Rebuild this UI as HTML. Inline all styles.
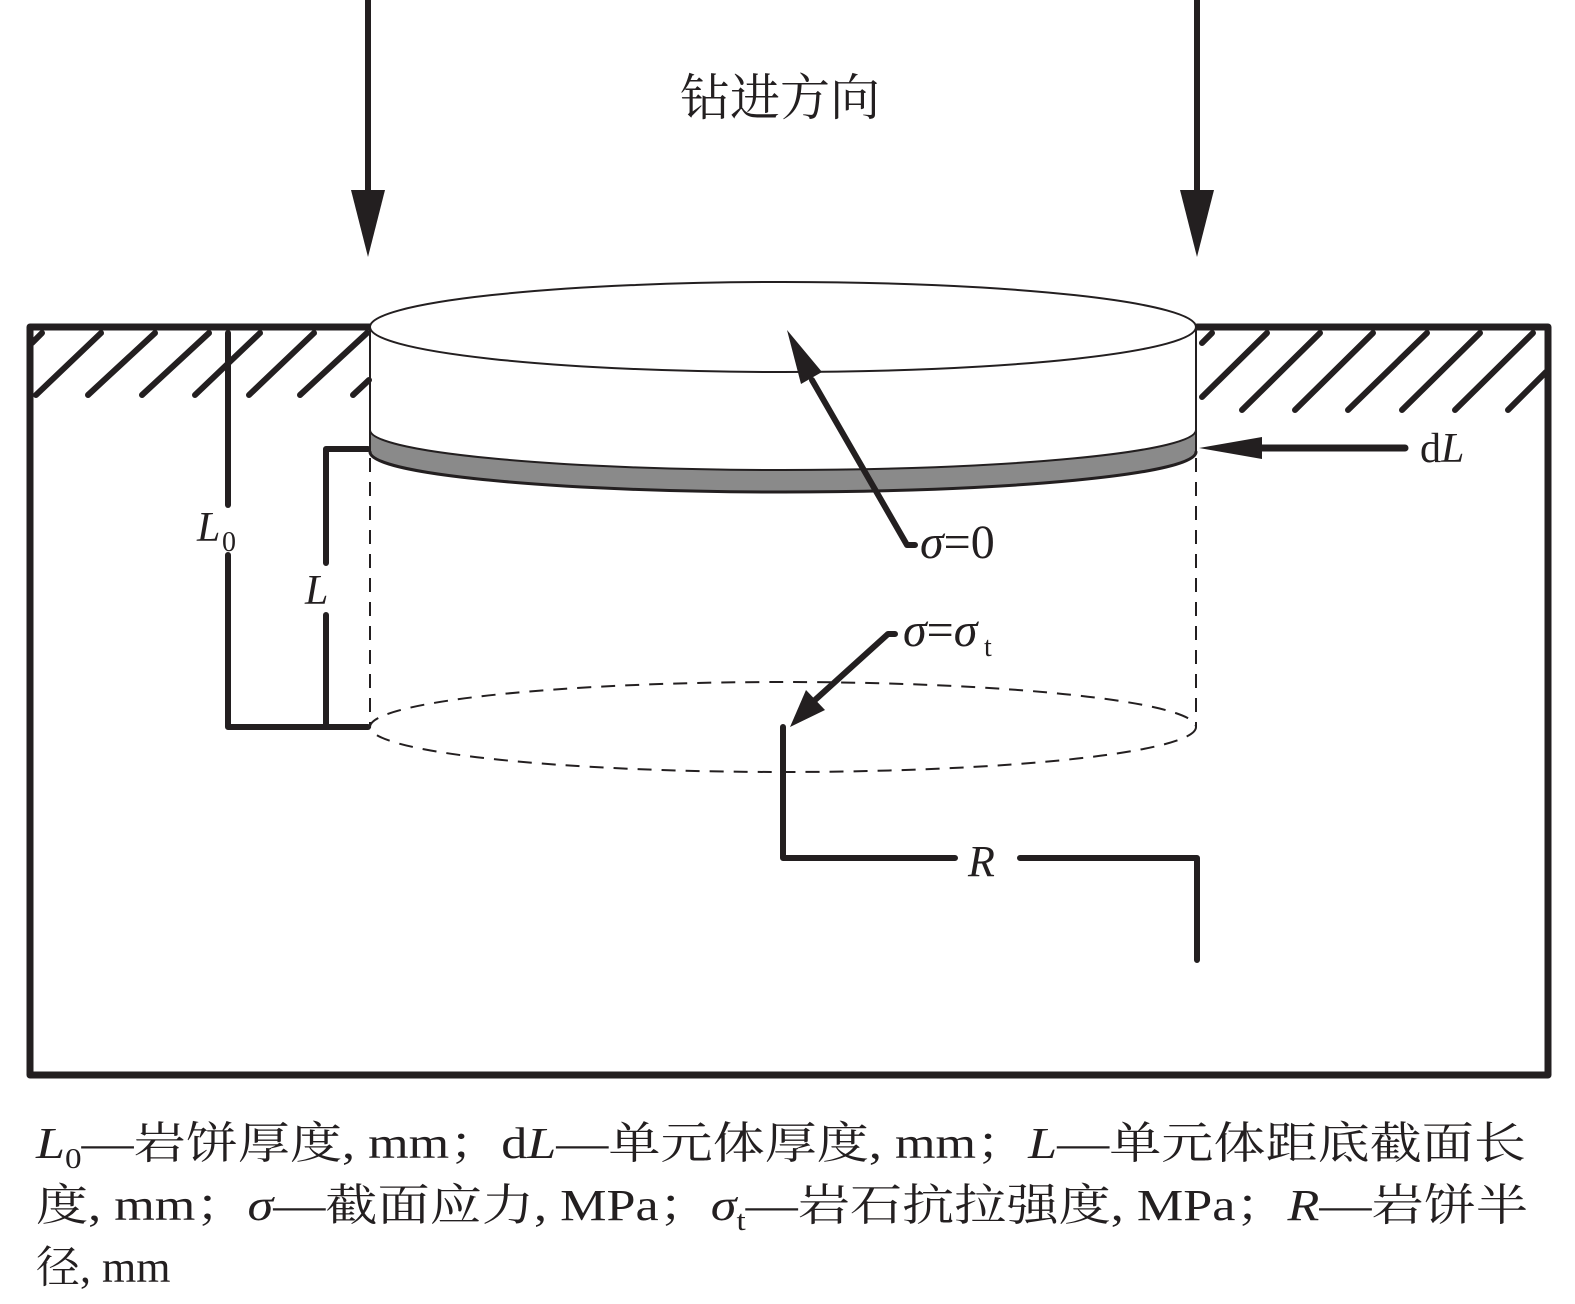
<!DOCTYPE html>
<html><head><meta charset="utf-8"><style>
html,body{margin:0;padding:0;background:#fff;}
svg{display:block;}
text{font-family:"Liberation Serif","Noto Serif CJK SC",serif;fill:#231f20;}
</style></head><body>
<svg width="1575" height="1304" viewBox="0 0 1575 1304" xmlns="http://www.w3.org/2000/svg">
<g stroke="#231f20" fill="none" stroke-linecap="round" stroke-linejoin="round">
<path d="M370,327 L30,327 L30,1075 L1548,1075 L1548,327 L1197,327" stroke-width="7"/>
<g stroke-width="6">
<line x1="36" y1="395" x2="101" y2="333"/>
<line x1="88" y1="395" x2="155" y2="333"/>
<line x1="142" y1="395" x2="209" y2="333"/>
<line x1="195" y1="395" x2="260" y2="333"/>
<line x1="249" y1="395" x2="314" y2="333"/>
<line x1="300" y1="395" x2="367" y2="333"/>
<line x1="353" y1="395" x2="369" y2="380"/>
<line x1="32" y1="343" x2="42" y2="333"/>
<line x1="1202" y1="397" x2="1267" y2="333"/>
<line x1="1242" y1="410" x2="1320" y2="333"/>
<line x1="1295" y1="410" x2="1373" y2="333"/>
<line x1="1348" y1="410" x2="1427" y2="333"/>
<line x1="1402" y1="410" x2="1480" y2="333"/>
<line x1="1455" y1="410" x2="1533" y2="333"/>
<line x1="1508" y1="410" x2="1546" y2="372"/>
<line x1="1202" y1="343" x2="1212" y2="333"/>
</g>
<g stroke-width="6">
<path d="M228,333 L228,505"/>
<path d="M228,555 L228,727 L368,727"/>
<path d="M368,449 L326,449 L326,563"/>
<path d="M326,615 L326,727"/>
</g>
<ellipse cx="783" cy="327" rx="413" ry="45" stroke-width="2" fill="#fff"/>
<path d="M370,430 A413,40 0 0,0 1196,430 L1196,452 A413,40 0 0,1 370,452 Z" fill="#8a8a8a" stroke="none"/>
<path d="M370,430 A413,40 0 0,0 1196,430" stroke-width="2"/>
<path d="M370,452 A413,40 0 0,0 1196,452" stroke-width="3"/>
<line x1="370" y1="327" x2="370" y2="452" stroke-width="2"/>
<line x1="1196" y1="327" x2="1196" y2="452" stroke-width="2"/>
<g stroke-width="2" stroke-dasharray="14,10" stroke-linecap="butt">
<line x1="370" y1="458" x2="370" y2="727"/>
<line x1="1196" y1="458" x2="1196" y2="727"/>
<ellipse cx="783" cy="727" rx="413" ry="45"/>
</g>
<line x1="1260" y1="448" x2="1405" y2="448" stroke-width="7"/>
<line x1="368" y1="0" x2="368" y2="195" stroke-width="6"/>
<line x1="1197" y1="0" x2="1197" y2="195" stroke-width="6"/>
<path d="M915,545 L907,545 L812,380" stroke-width="6"/>
<path d="M895,634 L888,634 L815,700" stroke-width="6"/>
<g stroke-width="6">
<path d="M783,727 L783,858 L955,858"/>
<path d="M1020,858 L1197,858 L1197,960"/>
</g>
</g>
<g fill="#231f20">
<polygon points="351,190 385,190 368,257"/>
<polygon points="1180,190 1214,190 1197,257"/>
<polygon points="1199,448 1262,437 1262,459"/>
<polygon points="787,330 822,372 801,384"/>
<polygon points="790,727 806,690 825,710"/>
</g>
<text x="780" y="115" font-size="50" text-anchor="middle">钻进方向</text>
<text x="1420" y="462" font-size="42">d<tspan font-style="italic">L</tspan></text>
<text x="197" y="541" font-size="42" font-style="italic">L</text><text x="222" y="551" font-size="28">0</text>
<text x="305" y="604" font-size="42" font-style="italic">L</text>
<text x="920" y="558" font-size="48"><tspan font-style="italic">σ</tspan>=0</text>
<text x="903" y="646" font-size="48"><tspan font-style="italic">σ</tspan>=<tspan font-style="italic">σ</tspan></text><text x="984" y="656" font-size="28">t</text>
<text x="968" y="876" font-size="44" font-style="italic">R</text>
<text x="36" y="1158" font-size="44" textLength="1490" lengthAdjust="spacingAndGlyphs"><tspan font-style="italic">L</tspan><tspan font-size="28" dy="10">0</tspan><tspan dy="-10">—岩饼厚度, mm；d</tspan><tspan font-style="italic">L</tspan>—单元体厚度, mm；<tspan font-style="italic">L</tspan>—单元体距底截面长</text>
<text x="36" y="1220" font-size="44" textLength="1492" lengthAdjust="spacingAndGlyphs">度, mm；<tspan font-style="italic">σ</tspan>—截面应力, MPa；<tspan font-style="italic">σ</tspan><tspan font-size="28" dy="10">t</tspan><tspan dy="-10">—岩石抗拉强度, MPa；</tspan><tspan font-style="italic">R</tspan>—岩饼半</text>
<text x="36" y="1282" font-size="44">径, mm</text>
</svg>
</body></html>
